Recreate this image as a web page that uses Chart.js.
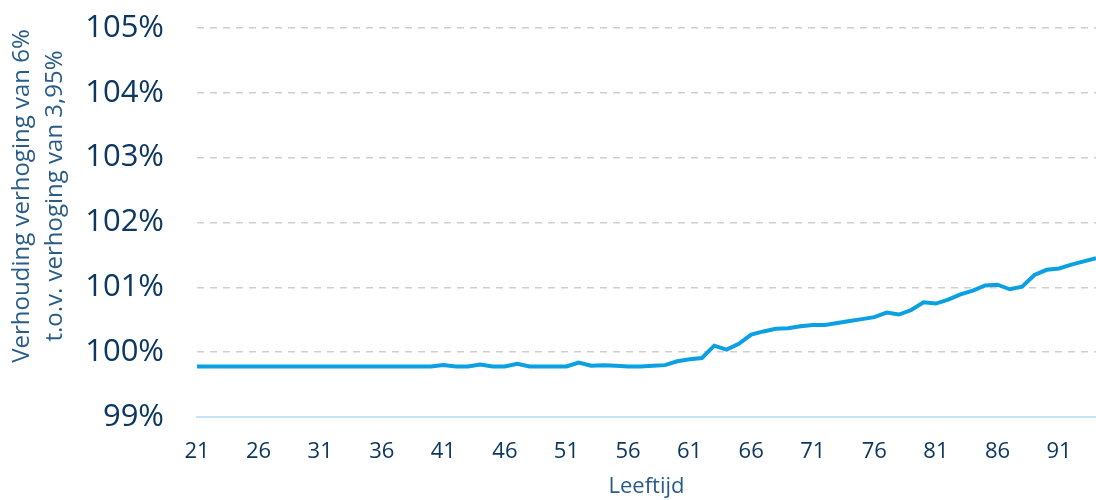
<!DOCTYPE html>
<html>
<head>
<meta charset="utf-8">
<script src="https://cdn.jsdelivr.net/npm/chart.js@4"></script>
<style>
  html, body { margin: 0; padding: 0; background: #fff; }
  #wrap { width: 1096px; height: 500px; }
</style>
</head>
<body>
<div id="wrap"><canvas id="myChart"></canvas></div>
<script>
// leeftijden 21 t/m 94
const ages = [];
for (let a = 21; a <= 94; a++) ages.push(a);

// verhouding in procenten
const ratio = [
  99.78, 99.78, 99.78, 99.78, 99.78, 99.78, 99.78, 99.78, 99.78, 99.78, // 21-30
  99.78, 99.78, 99.78, 99.78, 99.78, 99.78, 99.78, 99.78, 99.78, 99.78, // 31-40
  99.80, 99.78, 99.78, 99.81, 99.78, 99.78, 99.82, 99.78, 99.78, 99.78, // 41-50
  99.78, 99.84, 99.79, 99.80, 99.79, 99.78, 99.78, 99.79, 99.80, 99.86, // 51-60
  99.89, 99.91, 100.10, 100.04, 100.13, 100.27, 100.32, 100.36, 100.37, 100.40, // 61-70
  100.42, 100.42, 100.45, 100.48, 100.51, 100.54, 100.61, 100.58, 100.65, 100.77, // 71-80
  100.75, 100.81, 100.89, 100.95, 101.03, 101.04, 100.97, 101.01, 101.19, 101.27, // 81-90
  101.29, 101.35, 101.40, 101.45 // 91-94
];

const yMin = 99;
const yMax = 105;
const yTitle = ['Verhouding verhoging van 6%', 't.o.v. verhoging van 3,95%'];
const xTitle = 'Leeftijd';

const navy = '#0b3760';
const titleColor = '#2a5c88';

// y-as titel zit in het origineel iets hoger dan het midden van de as
const yTitlePlugin = {
  id: 'yTitle',
  afterDraw(chart) {
    const ctx = chart.ctx;
    ctx.save();
    ctx.fillStyle = titleColor;
    ctx.font = '24px "Open Sans"';
    ctx.textAlign = 'center';
    ctx.textBaseline = 'middle';
    [22, 55].forEach((x, i) => {
      ctx.save();
      ctx.translate(x, 196);
      ctx.rotate(-Math.PI / 2);
      ctx.fillText(yTitle[i], 0, 0);
      ctx.restore();
    });
    ctx.restore();
  }
};

const data = {
  labels: ages,
  datasets: [{
    data: ratio,
    borderColor: '#0aa0e2',
    borderWidth: 4,
    pointRadius: 0,
    tension: 0,
    fill: false
  }]
};

const config = {
  type: 'line',
  data,
  plugins: [yTitlePlugin],
  options: {
    responsive: true,
    maintainAspectRatio: false,
    animation: false,
    layout: { padding: { top: 0, right: 0, left: 5, bottom: 0 } },
    plugins: { legend: { display: false }, tooltip: { enabled: false } },
    scales: {
      x: {
        offset: false,
        afterFit: function(scale) {
          scale.height = 83;
        },
        grid: { display: false, drawTicks: false },
        border: { display: true, color: '#c6e4f9', width: 2 },
        ticks: {
          autoSkip: false,
          maxRotation: 0,
          padding: 22,
          color: navy,
          font: { family: 'Open Sans', size: 22 },
          callback: function(val, i) {
            return i % 5 === 0 ? ages[i] : null;
          }
        },
        title: {
          display: true,
          text: xTitle,
          color: titleColor,
          font: { family: 'Open Sans', size: 22 },
          padding: { top: 8, bottom: 0 }
        }
      },
      y: {
        min: yMin,
        max: yMax,
        afterFit: function(scale) {
          // vaste breedte; tick-padding niet laten meetellen boven/onder
          scale.width = 192;
          scale.paddingTop = 28;
          scale.paddingBottom = 18;
        },
        grid: {
          drawTicks: false,
          lineWidth: 1.5,
          color: function(ctx) {
            return ctx.tick && ctx.tick.value === yMin ? 'rgba(0,0,0,0)' : '#cfcfcf';
          }
        },
        border: { display: false, dash: [7, 6] },
        ticks: {
          stepSize: 1,
          padding: 33,
          color: navy,
          font: { family: 'Open Sans', size: 31 },
          callback: function(v) { return v + '%'; }
        },
        title: { display: false }
      }
    }
  }
};

new Chart(document.getElementById('myChart'), config);
</script>
</body>
</html>
